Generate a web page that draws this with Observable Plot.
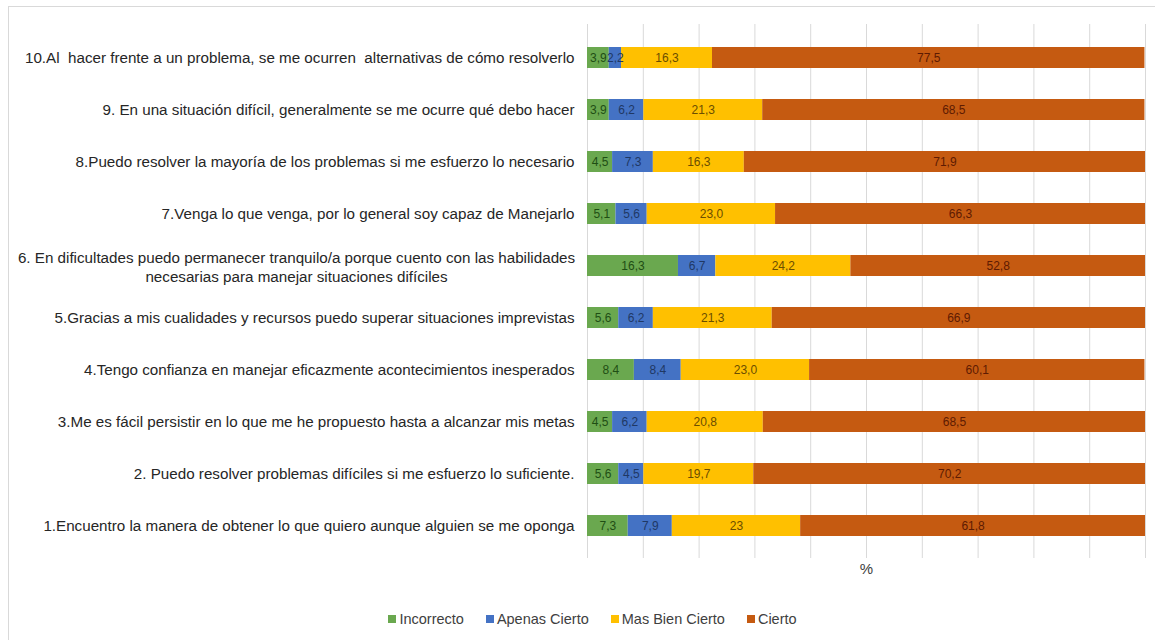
<!DOCTYPE html>
<html>
<head>
<meta charset="utf-8">
<script src="https://cdn.jsdelivr.net/npm/d3@7"></script>
<script src="https://cdn.jsdelivr.net/npm/@observablehq/plot@0.6"></script>
<style>
  html, body { margin: 0; padding: 0; background: #fff; }
  body { width: 1155px; height: 640px; position: relative; overflow: hidden;
         font-family: "Liberation Sans", Arial, sans-serif; }
  #frame { position: absolute; left: 8px; top: 6px; width: 1170px; height: 660px;
           border: 1px solid #d9d9d9; pointer-events: none; }
  #chart svg { display: block; }
  #legend { position: absolute; top: 611px; left: 0; width: 1185px; display: flex; justify-content: center;
            gap: 22px; font-size: 14.5px; color: #404040; }
  #legend .item { display: flex; align-items: center; gap: 3px; }
  #legend .sw { width: 8px; height: 8px; display: inline-block; }
</style>
</head>
<body>
<div id="chart"></div>
<div id="legend"></div>
<div id="frame"></div>
<script>
const categories = [
  "1.Encuentro la manera de obtener lo que quiero aunque alguien se me oponga",
  "2. Puedo resolver problemas difíciles si me esfuerzo lo suficiente.",
  "3.Me es fácil persistir en lo que me he propuesto hasta a alcanzar mis metas",
  "4.Tengo confianza en manejar eficazmente acontecimientos inesperados",
  "5.Gracias a mis cualidades y recursos puedo superar situaciones imprevistas",
  "6. En dificultades puedo permanecer tranquilo/a porque cuento con las habilidades\nnecesarias para manejar situaciones difíciles",
  "7.Venga lo que venga, por lo general soy capaz de Manejarlo",
  "8.Puedo resolver la mayoría de los problemas si me esfuerzo lo necesario",
  "9. En una situación difícil, generalmente se me ocurre qué debo hacer",
  "10.Al  hacer frente a un problema, se me ocurren  alternativas de cómo resolverlo"
];
const seriesNames = ["Incorrecto", "Apenas Cierto", "Mas Bien Cierto", "Cierto"];
const incorrecto    = [7.3, 5.6, 4.5, 8.4, 5.6, 16.3, 5.1, 4.5, 3.9, 3.9];
const apenasCierto  = [7.9, 4.5, 6.2, 8.4, 6.2, 6.7, 5.6, 7.3, 6.2, 2.2];
const masBienCierto = [23, 19.7, 20.8, 23.0, 21.3, 24.2, 23.0, 16.3, 21.3, 16.3];
const cierto        = [61.8, 70.2, 68.5, 60.1, 66.9, 52.8, 66.3, 71.9, 68.5, 77.5];
const masBienLabels = ["23", "19,7", "20,8", "23,0", "21,3", "24,2", "23,0", "16,3", "21,3", "16,3"];
const xTicks = [0, 10, 20, 30, 40, 50, 60, 70, 80, 90, 100];
const axisLabel = "%";

const barColors  = ["#6aa84f", "#4472c4", "#ffc000", "#c55a11"];
const textColors = ["#1f4e14", "#1f3864", "#6b4e00", "#5e1b02"];

const seriesValues = [incorrecto, apenasCierto, masBienCierto, cierto];
const fmt = v => v.toFixed(1).replace(".", ",");
const data = [];
categories.forEach((c, i) => {
  seriesNames.forEach((s, j) => {
    const v = seriesValues[j][i];
    data.push({
      category: c, series: s, value: v,
      label: j === 2 ? masBienLabels[i] : fmt(v),
      fill: barColors[j], textFill: textColors[j]
    });
  });
});

const labelFont = `"Liberation Sans", Arial, sans-serif`;
const multiLine = categories.filter(c => c.includes("\n"));
const singleLine = categories.filter(c => !c.includes("\n"));

const plot = Plot.plot({
  width: 1155,
  height: 585,
  marginLeft: 587,
  marginRight: 10,
  marginTop: 24,
  marginBottom: 27,
  style: { fontFamily: labelFont, background: "transparent" },
  x: { domain: [0, 100], axis: null },
  y: { domain: [...categories].reverse(), axis: null, paddingInner: 0.6, paddingOuter: 0.35 },
  color: { type: "identity" },
  marks: [
    Plot.gridX(xTicks, { stroke: "#d9d9d9", strokeOpacity: 1, strokeWidth: 1 }),
    Plot.barX(data, {
      x: "value", y: "category", fill: "fill", z: "series"
    }),
    Plot.text(data, Plot.stackX({
      x: "value", y: "category", z: "series", text: "label", fill: "textFill",
      fontSize: 12, fontFamily: labelFont
    })),
    Plot.text(singleLine, {
      y: d => d, text: d => d, frameAnchor: "left", textAnchor: "end", dx: -13,
      fontSize: 15.2, fill: "#262626"
    }),
    Plot.text(multiLine, {
      y: d => d, text: d => d, frameAnchor: "left", textAnchor: "middle", dx: -291,
      fontSize: 15.2, lineHeight: 1.25, fill: "#262626"
    }),
    Plot.text([axisLabel], {
      text: d => d, frameAnchor: "bottom", dy: 15, fontSize: 15, fill: "#404040"
    })
  ]
});
plot.querySelectorAll("text").forEach(t => t.setAttribute("xml:space", "preserve"));
plot.style.whiteSpace = "pre";
document.getElementById("chart").appendChild(plot);

const legend = document.getElementById("legend");
seriesNames.forEach((s, j) => {
  const item = document.createElement("span");
  item.className = "item";
  const sw = document.createElement("span");
  sw.className = "sw";
  sw.style.background = barColors[j];
  const tx = document.createElement("span");
  tx.textContent = s;
  item.appendChild(sw);
  item.appendChild(tx);
  legend.appendChild(item);
});
</script>
</body>
</html>
